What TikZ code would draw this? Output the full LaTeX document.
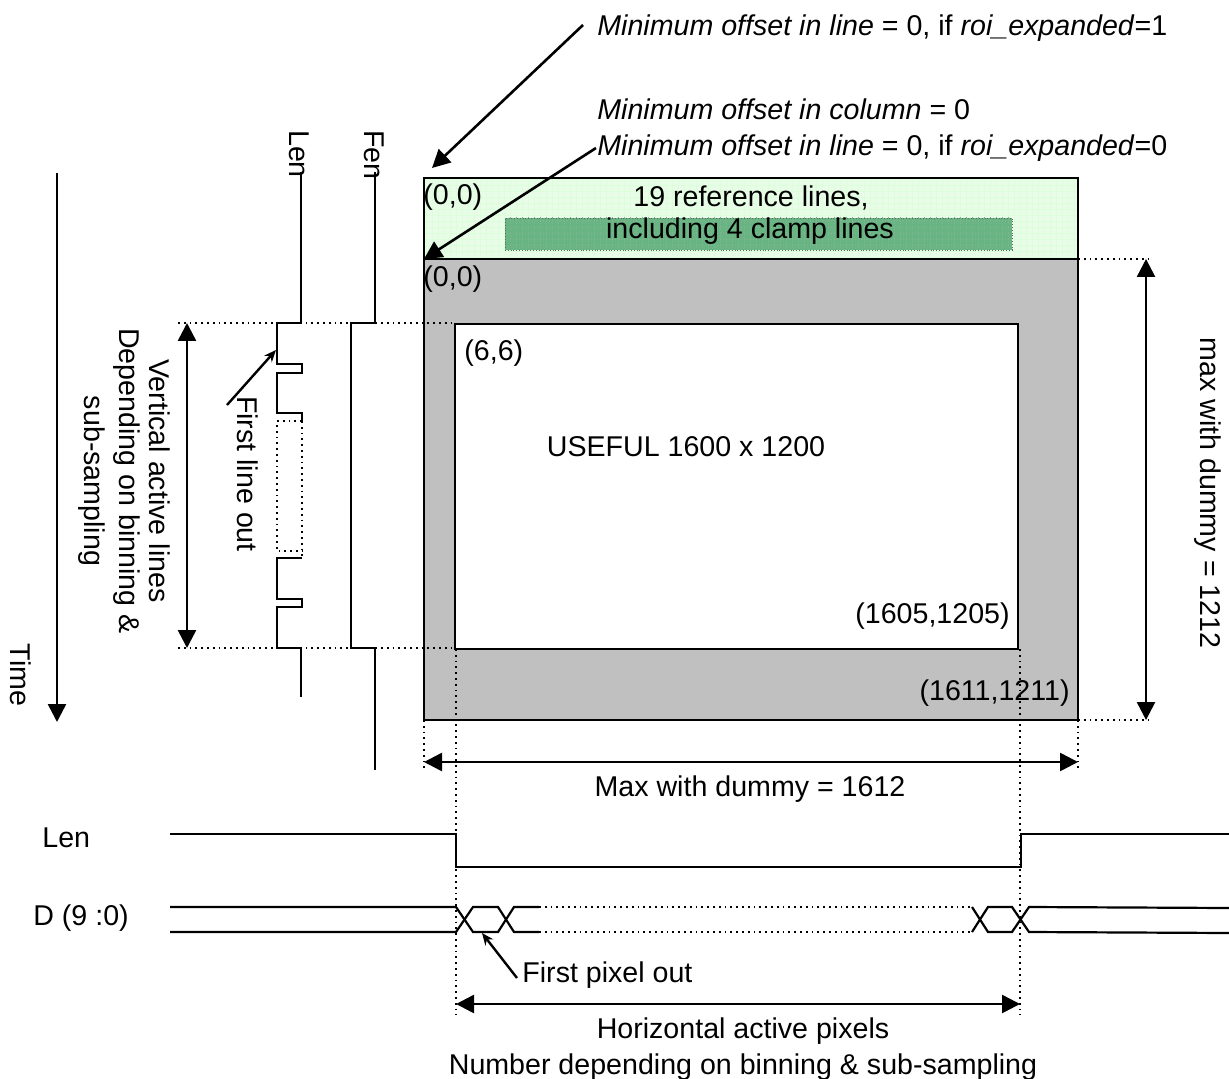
\documentclass[tikz,border=0pt]{standalone}
\usepackage{fontspec}
\setmainfont{Liberation Sans}
\usetikzlibrary{arrows.meta, patterns}
\definecolor{refgreen}{RGB}{232,252,232}
\definecolor{clampgreen}{RGB}{104,180,130}
\definecolor{clampgrid}{RGB}{130,180,145}
\definecolor{darkgrey}{RGB}{192,192,192}

\begin{document}
\begin{tikzpicture}[
      x=0.5pt, y=-0.5pt,
      lbl/.style={inner sep=0pt, font=\fontsize{14.3}{17}\selectfont},
      lblr/.style={lbl, anchor=west},
      lblrot/.style={lbl, rotate=-90, align=center},
      area/.style={draw, inner sep=0pt, outer sep=0pt, anchor=north west},
      wave/.style={line width=1.1pt},
      guide/.style={line width=0.9pt, dotted},
      bigarr/.style={-{Triangle[length=9pt, width=9pt]}, line width=1.3pt},
      dblarr/.style={{Triangle[length=9pt, width=9pt]}-{Triangle[length=9pt, width=9pt]}, line width=1.3pt},
      smallarr/.style={-{Stealth[length=6pt, width=5pt, open]}, line width=1.2pt}
    ]
    \useasboundingbox (0,0) rectangle (1229,1079);

    % sensor areas
    \node[area, line width=1pt, preaction={fill=refgreen}, preaction={pattern=grid, pattern color=green!14},
          minimum width=327pt, minimum height=40.5pt] (refzone) at (424,178) {};
    \node[area, draw=black!60, densely dotted, preaction={fill=clampgreen}, preaction={pattern=grid, pattern color=clampgrid},
          minimum width=253.5pt, minimum height=16pt] (clamp) at (505,218) {};
    \node[area, line width=1.1pt, fill=darkgrey, minimum width=327pt, minimum height=230.5pt] (dummy) at (424,259) {};
    \node[area, line width=1.1pt, fill=white, minimum width=281.5pt, minimum height=162.5pt] (useful) at (455,324) {};

    % arrow ends
    \coordinate (offa) at (583,25);
    \coordinate (offb) at (596,148);
    \coordinate (fl) at (227,405);
    \coordinate (flend) at (276,350);
    \coordinate (fp) at (517,978);
    \coordinate (fpend) at (482,933);
    \coordinate (timea) at (57,173);
    \coordinate (timeb) at (57,722);

    % dotted guides
    \draw[guide] (178,323) -- (455,323);
    \draw[guide] (178,648) -- (455,648);
    \draw[guide] (1078,259) -- (1148,259);
    \draw[guide] (1078,720) -- (1148,720);
    \draw[guide] (424,720) -- (424,772);
    \draw[guide] (1078,720) -- (1078,772);
    \draw[guide] (456,649) -- (456,1015);
    \draw[guide] (1020,649) -- (1020,1015);

    % arrows
    \draw[bigarr] (offa) -- (432,168);
    \draw[bigarr] (offb) -- (dummy.north west);
    \draw[bigarr] (timea) -- (timeb);
    \draw[dblarr] (187,323) -- (187,648);
    \draw[dblarr] (1146,259) -- (1146,720);
    \draw[dblarr] (424,762) -- (1078,762);
    \draw[dblarr] (456,1004) -- (1020,1004);
    \draw[smallarr] (fl) -- (flend);
    \draw[smallarr] (fp) -- (fpend);

    % vertical waveforms
    \draw[wave] (301,172) -- (301,323) -- (277,323) -- (277,364) -- (302,364) -- (302,373) -- (277,373) -- (277,413) -- (302,413) -- (302,421);
    \draw[guide] (302,421) -- (277,421) -- (277,551) -- (302,551);
    \draw[guide] (302,421) -- (302,558);
    \draw[wave] (302,558) -- (277,558) -- (277,599) -- (302,599) -- (302,607) -- (277,607) -- (277,648) -- (301,648) -- (301,697);
    \draw[wave] (375,172) -- (375,323) -- (351,323) -- (351,648) -- (375,648) -- (375,770);

    % horizontal waveforms
    \draw[wave] (170,834) -- (456,834) -- (456,867) -- (1021,867) -- (1021,834) -- (1229,834);
    \draw[wave] (170,907) -- (456,907) -- (473,932) -- (498,932) -- (514,907) -- (539,907);
    \draw[wave] (170,932) -- (456,932) -- (473,907) -- (498,907) -- (514,932) -- (539,932);
    \draw[guide] (539,907) -- (972,907);
    \draw[guide] (539,932) -- (972,932);
    \draw[wave] (972,907) -- (988,932) -- (1012,932) -- (1029,907) -- (1229,908);
    \draw[wave] (972,932) -- (988,907) -- (1012,907) -- (1029,932) -- (1229,933);

    % labels
    \node[lblr] (txtoffa) at (597,28)  {\textit{Minimum offset in line} = 0, if \textit{roi\_expanded}=1};
    \node[lblr] (txtoffc) at (597,109) {\textit{Minimum offset in column} = 0};
    \node[lblr] (txtoffb) at (597,148) {\textit{Minimum offset in line} = 0, if \textit{roi\_expanded}=0};
    \node[lblr] (orga) at (423,197) {(0,0)};
    \node[lblr] (orgb) at (423,279) {(0,0)};
    \node[lblr] (orgc) at (464,353) {(6,6)};
    \node[lbl, anchor=east] (endu) at (1010,616) {(1605,1205)};
    \node[lbl, anchor=east] (endd) at (1070,693) {(1611,1211)};
    \node[lbl] (txtref) at (751,198) {19 reference lines,};
    \node[lbl] (txtclamp) at (750,231) {including 4 clamp lines};
    \node[lbl] (txtuseful) at (686,447) {USEFUL 1600 x 1200};
    \node[lbl] (txtmaxh) at (750,789) {Max with dummy = 1612};
    \node[lblr] (txtlen) at (42,838) {Len};
    \node[lblr] (txtd) at (33,918) {D (9 :0)};
    \node[lblr] (txtfp) at (522,975) {First pixel out};
    \node[lbl] (txthor) at (743,1031) {Horizontal active pixels};
    \node[lbl] (txtnum) at (743,1067) {Number depending on binning \& sub-sampling};
    \node[lblrot] (txtvert) at (124,481) {Vertical active lines\\[-2pt]Depending on binning \&\\[0.5pt]sub-sampling};
    \node[lblrot] (txtfl) at (248,474) {First line out};
    \node[lblrot] (txtmaxv) at (1208,493) {max with dummy = 1212};
    \node[lblrot] (txtlenv) at (299,154) {Len};
    \node[lblrot] (txtfenv) at (374,155) {Fen};
    \node[lblrot] (txttime) at (21,675) {Time};
  \end{tikzpicture}
\end{document}
